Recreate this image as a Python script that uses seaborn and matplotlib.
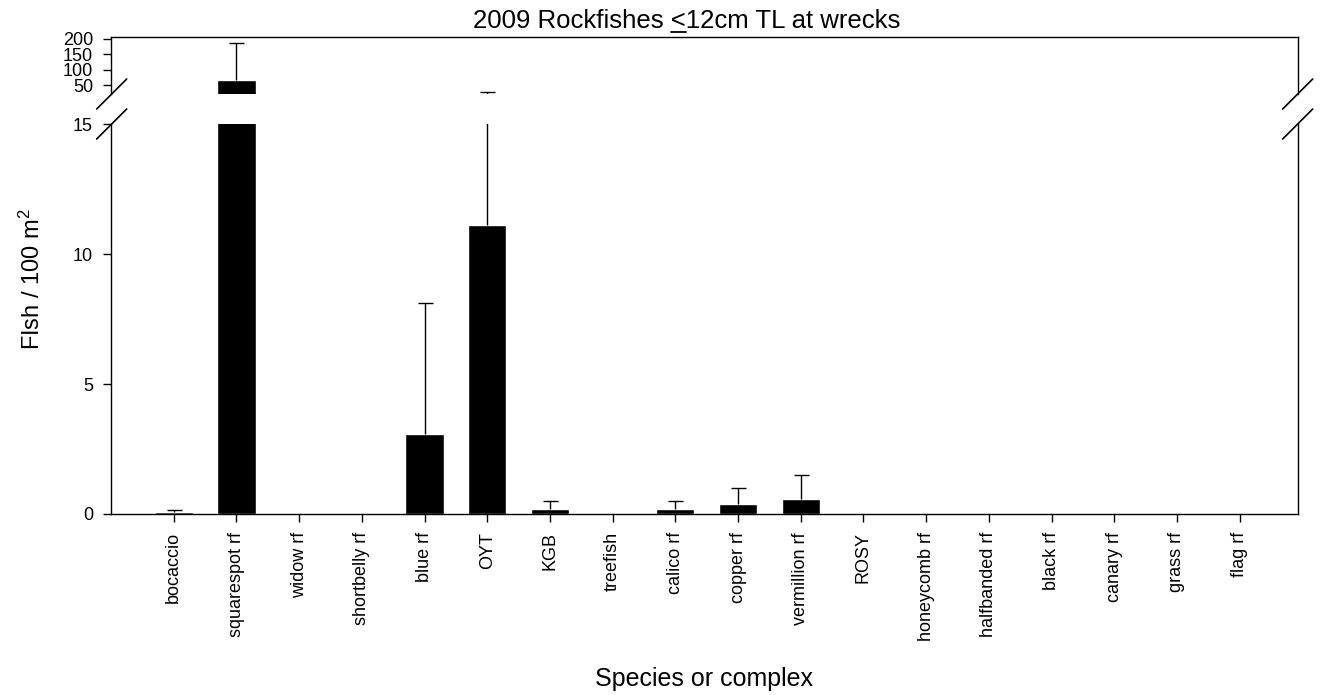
import matplotlib
matplotlib.use('Agg')
import matplotlib.pyplot as plt
import seaborn as sns
import pandas as pd
import numpy as np
from matplotlib.lines import Line2D

species = ['bocaccio', 'squarespot rf', 'widow rf', 'shortbelly rf', 'blue rf', 'OYT',
           'KGB', 'treefish', 'calico rf', 'copper rf', 'vermillion rf', 'ROSY',
           'honeycomb rf', 'halfbanded rf', 'black rf', 'canary rf', 'grass rf', 'flag rf']
density = [0.08, 67, 0, 0, 3.07, 11.1, 0.19, 0, 0.19, 0.38, 0.56, 0, 0, 0, 0, 0, 0, 0]
err_top = [0.17, 186, 0, 0, 8.1, 28.5, 0.51, 0, 0.51, 1.01, 1.5, 0, 0, 0, 0, 0, 0, 0]

df = pd.DataFrame({'species': species, 'density': density, 'err_top': err_top})

sns.set_style('ticks')
plt.rcParams['font.family'] = ['Liberation Sans', 'DejaVu Sans']
plt.rcParams['mathtext.fontset'] = 'custom'
plt.rcParams['mathtext.rm'] = 'Liberation Sans'
plt.rcParams['mathtext.it'] = 'Liberation Sans'
plt.rcParams['axes.linewidth'] = 1.0
plt.rcParams['axes.edgecolor'] = 'black'
plt.rcParams['text.color'] = 'black'
plt.rcParams['xtick.color'] = 'black'
plt.rcParams['ytick.color'] = 'black'

W, H = 1320, 695
fig = plt.figure(figsize=(W / 100, H / 100), dpi=100)
ax = fig.add_axes([111 / W, 1 - 514 / H, 1187 / W, 390 / H])
ax_top = fig.add_axes([111 / W, 1 - 94 / H, 1187 / W, (94 - 37.3) / H])

for a in (ax, ax_top):
    sns.barplot(data=df, x='species', y='density', color='black', saturation=1,
                width=0.61, ax=a, errorbar=None)
    has_err = df['err_top'] > 0
    xs = np.arange(len(df))[has_err]
    lo = np.zeros(has_err.sum())
    up = (df['err_top'] - df['density'])[has_err].values
    eb = a.errorbar(xs, df['density'][has_err], yerr=[lo, up], fmt='none', ecolor='black',
                    elinewidth=1, capsize=5.4, capthick=1)
    # only the upper cap is drawn
    eb[1][0].set_visible(False)
    a.set_xlim(-1, 17.93)
    a.set_xlabel('')
    a.set_ylabel('')

# bottom panel
ax.set_ylim(0, 15)
ax.set_yticks([0, 5, 10, 15])
ax.spines['top'].set_visible(False)
ax.tick_params(axis='y', direction='out', length=6, width=1, pad=7, labelsize=13)
ax.tick_params(axis='x', direction='out', length=6, width=1, pad=7, labelsize=13)
ax.set_xticks(range(len(species)))
ax.set_xticklabels(species, rotation=90)

# top panel
ax_top.set_ylim(22, 204)
ax_top.set_yticks([50, 100, 150, 200])
ax_top.spines['bottom'].set_visible(False)
ax_top.tick_params(axis='x', bottom=False, labelbottom=False)
ax_top.tick_params(axis='y', direction='out', length=6, width=1, pad=7, labelsize=13)

# axis break marks
for x0 in (96.7, 1282.7):
    for y0 in (109, 139):
        fig.add_artist(Line2D([x0 / W, (x0 + 30) / W], [1 - y0 / H, 1 - (y0 - 30) / H],
                              color='black', lw=1.2, transform=fig.transFigure))

# title with an underlined "<"
title_fs = 18.5
title = fig.text(687 / W, 1 - 28 / H, '2009 Rockfishes <12cm TL at wrecks',
                 ha='center', va='baseline', fontsize=title_fs)
r = fig.canvas.get_renderer()
bb = title.get_window_extent(r)
tmp = fig.text(0, 0, '2009 Rockfishes <', fontsize=title_fs)
x_end = bb.x0 + tmp.get_window_extent(r).width
tmp.set_text('<')
lt_w = tmp.get_window_extent(r).width
tmp.remove()
fig.add_artist(Line2D([(x_end - lt_w) / W, x_end / W], [1 - 32 / H, 1 - 32 / H],
                      color='black', lw=1.3, transform=fig.transFigure))

fig.text(704 / W, 1 - 679 / H, 'Species or complex', ha='center', va='center', fontsize=18)
fig.text(32 / W, 1 - 279 / H, 'FIsh / 100 m$^2$', rotation=90, ha='center', va='center',
         fontsize=17)

fig.savefig('out.png', dpi=100)
